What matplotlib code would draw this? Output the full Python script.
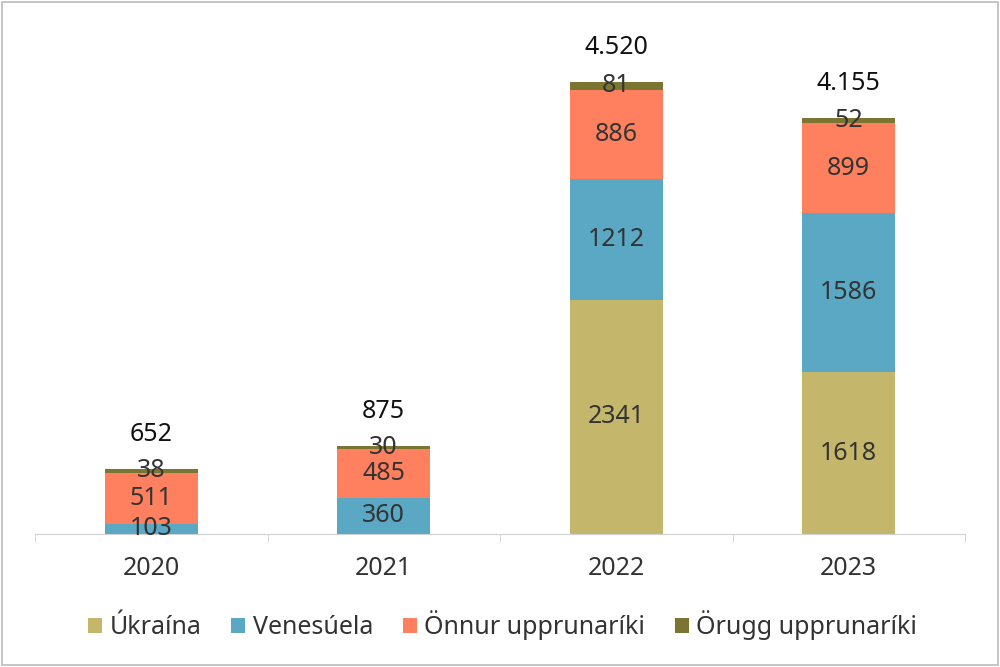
import matplotlib
matplotlib.use('agg')
import matplotlib.pyplot as plt
import numpy as np
from matplotlib.patches import Rectangle

years = ['2020', '2021', '2022', '2023']
series_names = ['Úkraína', 'Venesúela', 'Önnur upprunaríki', 'Örugg upprunaríki']
ukraina = [0, 0, 2341, 1618]
venesuela = [103, 360, 1212, 1586]
onnur = [511, 485, 886, 899]
orugg = [38, 30, 81, 52]
totals = ['652', '875', '4.520', '4.155']

colors = ['#C4B66B', '#5BA8C4', '#FF805F', '#7B7531']

plt.rcParams['font.family'] = ['Noto Sans', 'DejaVu Sans']

fig = plt.figure(figsize=(10, 6.67), dpi=100)
ax = fig.add_axes([0.035, 0.1994, 0.93, 0.75])

x = np.arange(len(years))
bottom = np.zeros(len(years))
for name, vals, col in zip(series_names, [ukraina, venesuela, onnur, orugg], colors):
    vals = np.array(vals, dtype=float)
    ax.bar(x, vals, 0.4, bottom=bottom, color=col, label=name)
    for i, v in enumerate(vals):
        if v > 0:
            ax.text(x[i], bottom[i] + v / 2, f'{int(v)}', ha='center', va='center',
                    fontsize=18, color='#333333')
    bottom += vals

for i, t in enumerate(totals):
    ax.annotate(t, (x[i], bottom[i]), xytext=(0, 25), textcoords='offset points',
                ha='center', va='center', fontsize=18, color='#111111')

ax.set_xlim(-0.5, 3.5)
ax.set_ylim(0, 5000)
ax.set_yticks([])
for s in ['top', 'right', 'left']:
    ax.spines[s].set_visible(False)
ax.spines['bottom'].set_color('#D0D0D0')
ax.set_xticks(x)
ax.set_xticklabels(years, fontsize=18, color='#333333')
ax.tick_params(axis='x', which='major', length=0, pad=16)
ax.set_xticks(np.arange(-0.5, 4, 1), minor=True)
ax.tick_params(axis='x', which='minor', length=6, color='#D0D0D0')

ax.legend(loc='center', bbox_to_anchor=(0.503, -0.183), ncol=4, frameon=False,
          fontsize=18, handlelength=0.55, handleheight=0.55, handletextpad=0.3,
          columnspacing=1.2, labelcolor='#333333')

fig.patches.append(Rectangle((0.002, 0.003), 0.996, 0.994, transform=fig.transFigure,
                             fill=False, edgecolor='#BBBBBB', linewidth=1.2))

fig.savefig('out.png', dpi=100)
